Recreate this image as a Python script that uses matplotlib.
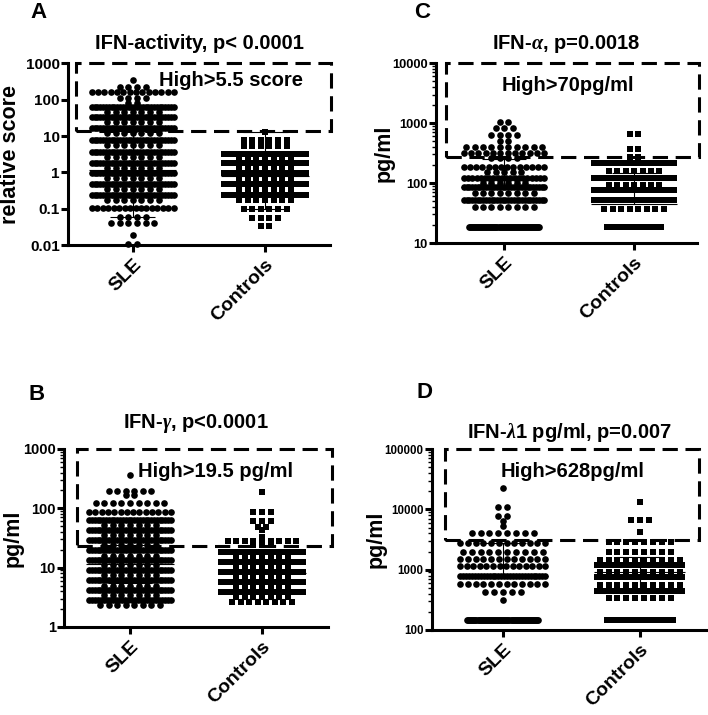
import matplotlib
matplotlib.use("Agg")
import matplotlib.pyplot as plt
import numpy as np
from matplotlib.patches import Rectangle
from matplotlib.ticker import FixedLocator, FixedFormatter, LogLocator, NullFormatter, NullLocator

plt.rcParams["font.family"] = ["Liberation Sans", "DejaVu Sans"]
plt.rcParams["font.weight"] = "bold"
plt.rcParams["axes.labelweight"] = "bold"
plt.rcParams["axes.titleweight"] = "bold"
plt.rcParams["mathtext.fontset"] = "custom"
plt.rcParams["mathtext.it"] = "Liberation Serif:italic"
plt.rcParams["mathtext.bf"] = "Liberation Serif:italic"

groups = ["SLE", "Controls"]

# each row of the dot plot: value and number of points sitting on it
a_sle_values = [341, 219, 160, 110, 80, 62, 45, 33, 24, 16.4, 12, 7.7, 5.6, 3.6, 2.6,
                1.8, 1.3, 0.95, 0.69, 0.47, 0.345, 0.237, 0.17, 0.104, 0.06, 0.04, 0.019, 0.0106]
a_sle_counts = [1, 4, 14, 4, 2, 30, 7, 30, 7, 30, 7, 30, 7, 30, 7,
                30, 7, 30, 7, 30, 7, 30, 7, 16, 4, 6, 1, 2]
a_ctrl_values = [13, 7.7, 5.2, 3.3, 2.4, 1.8, 1.3, 0.95, 0.69, 0.47, 0.34, 0.24, 0.17, 0.1, 0.055, 0.033]
a_ctrl_counts = [1, 6, 6, 30, 7, 30, 7, 30, 7, 30, 7, 28, 7, 6, 4, 2]

b_sle_values = [366, 196, 168, 123, 87, 64, 52, 43, 35, 29, 24, 20, 16, 13.5, 11, 9.1, 7.5,
                6.2, 5, 4.2, 3.4, 2.85, 2.35]
b_sle_counts = [1, 6, 2, 9, 14, 30, 7, 30, 7, 30, 7, 30, 7, 30, 7, 30, 7,
                30, 7, 30, 7, 28, 8]
b_ctrl_values = [190, 87, 62, 48, 43, 33, 28, 24, 18, 15, 12.5, 10.3, 8.5, 7, 5.7, 4.7, 3.9, 3.2, 2.6]
b_ctrl_counts = [1, 3, 3, 2, 1, 1, 9, 3, 28, 7, 30, 7, 30, 7, 30, 7, 30, 7, 8]

c_sle_values = [1040, 826, 631, 501, 398, 316, 261, 185, 152, 121, 100, 86, 68, 52, 40, 18.5]
c_sle_counts = [2, 3, 4, 2, 10, 12, 4, 14, 5, 20, 6, 30, 8, 30, 8, 70]
c_ctrl_values = [650, 370, 270, 215, 160, 121, 92, 76, 52, 37, 18.5]
c_ctrl_counts = [2, 2, 2, 26, 7, 28, 7, 30, 30, 8, 45]

d_sle_values = [22600, 11000, 7800, 6400, 5300, 4000, 2800, 2000, 1500, 1150, 780, 580, 430, 320, 147]
d_sle_counts = [1, 2, 2, 1, 1, 8, 12, 10, 12, 14, 30, 12, 5, 1, 70]
d_ctrl_values = [13300, 6600, 4200, 2900, 2000, 1450, 1200, 900, 760, 560, 450, 340, 147]
d_ctrl_counts = [1, 3, 1, 8, 8, 10, 30, 10, 30, 10, 30, 8, 80]

# centre line and error bar (low, high) per group
a_bars = [(1.15, 0.06, 14), (0.8, 0.1, 13)]
b_bars = [(11.5, 5.5, 24), (8, 3, 20)]
c_bars = [(86, 86, 250), (45, 45, 150)]
d_bars = [(790, 790, 2800), (900, 460, 1650)]

thresholds = [13.5, 23, 270, 3100]
titles = ["IFN-activity, p< 0.0001", r"IFN-$\gamma$, p<0.0001",
          r"IFN-$\alpha$, p=0.0018", r"IFN-$\lambda$1 pg/ml, p=0.007"]
box_texts = ["High>5.5 score", "High>19.5 pg/ml", "High>70pg/ml", "High>628pg/ml"]
ylabels = ["relative score", "pg/ml", "pg/ml", "pg/ml"]
letters = ["A", "B", "C", "D"]
yticks = [[0.01, 0.1, 1, 10, 100, 1000], [1, 10, 100, 1000],
          [10, 100, 1000, 10000], [100, 1000, 10000, 100000]]
ytick_labels = [["0.01", "0.1", "1", "10", "100", "1000"], ["1", "10", "100", "1000"],
                ["10", "100", "1000", "10000"], ["100", "1000", "10000", "100000"]]


def row_offsets(n, half_width, gap=0.065):
    if n == 1:
        return np.zeros(1)
    step = min(gap, 2 * half_width / (n - 1))
    return (np.arange(n) - (n - 1) / 2) * step


def dot_column(ax, x0, values, counts, marker, size, half_width, floor_width=None):
    xs, ys = [], []
    for i, (v, n) in enumerate(zip(values, counts)):
        hw = half_width
        if floor_width is not None and i == len(values) - 1:
            hw = floor_width
        xs.append(x0 + row_offsets(n, hw))
        ys.append(np.full(n, float(v)))
    ax.scatter(np.concatenate(xs), np.concatenate(ys), marker=marker, s=size,
               c="black", linewidths=0, zorder=3, clip_on=False)


fig = plt.figure(figsize=(7.08, 7.15), dpi=100)

panels = [
    dict(rect=[0.096, 0.657, 0.370, 0.2545], xlim=(-0.49, 1.49),
         data=[(a_sle_values, a_sle_counts), (a_ctrl_values, a_ctrl_counts)],
         bars=a_bars, floor=None, box_x=(-0.43, 1.5), text_xy=(0.2, 330),
         tick_fs=11, minor=False, title_pad=10, ylab_x=-0.18, letter_xy=(30, 18)),
    dict(rect=[0.0904, 0.1231, 0.3729, 0.249], xlim=(-0.5, 1.5),
         data=[(b_sle_values, b_sle_counts), (b_ctrl_values, b_ctrl_counts)],
         bars=b_bars, floor=None, box_x=(-0.40, 1.53), text_xy=(0.06, 410),
         tick_fs=10.5, minor=True, title_pad=15, ylab_x=-0.155, letter_xy=(28, 400)),
    dict(rect=[0.616, 0.660, 0.3686, 0.2517], xlim=(-0.523, 1.485),
         data=[(c_sle_values, c_sle_counts), (c_ctrl_values, c_ctrl_counts)],
         bars=c_bars, floor=(0.27, 0.21), box_x=(-0.45, 1.5), text_xy=(-0.02, 4300),
         tick_fs=9.3, minor=True, title_pad=10, ylab_x=-0.16, letter_xy=(414, 18)),
    dict(rect=[0.610, 0.1189, 0.388, 0.253], xlim=(-0.518, 1.489),
         data=[(d_sle_values, d_sle_counts), (d_ctrl_values, d_ctrl_counts)],
         bars=d_bars, floor=(0.26, 0.24), box_x=(-0.42, 1.43), text_xy=(-0.015, 41700),
         tick_fs=8.3, minor=True, title_pad=8, ylab_x=-0.164, letter_xy=(416, 398)),
]

markers = [("o", 23), ("s", 20)]

for k, p in enumerate(panels):
    ax = fig.add_axes(p["rect"])
    ax.set_yscale("log")
    ymin, ymax = yticks[k][0], yticks[k][-1]
    ax.set_ylim(ymin, ymax)
    ax.set_xlim(*p["xlim"])

    for g, (vals, cnts) in enumerate(p["data"]):
        fw = p["floor"][g] if p["floor"] else None
        dot_column(ax, g, vals, cnts, markers[g][0], markers[g][1], 0.31, fw)
        centre, low, high = p["bars"][g]
        ax.hlines(centre, g - 0.33, g + 0.33, color="black", lw=0.8, zorder=4)
        ax.vlines(g, low, high, color="black", lw=0.8, zorder=4)
        ax.hlines(high, g - 0.17, g + 0.17, color="black", lw=0.8, zorder=4)
        if low < centre:
            ax.hlines(low, g - 0.17, g + 0.17, color="black", lw=0.8, zorder=4)

    bx0, bx1 = p["box_x"]
    ax.add_patch(Rectangle((bx0, thresholds[k]), bx1 - bx0, ymax - thresholds[k],
                           fill=False, ec="black", lw=2.2, ls=(0, (5, 2.5)),
                           clip_on=False, zorder=5))
    ax.text(p["text_xy"][0], p["text_xy"][1], box_texts[k], fontsize=14.5,
            fontweight="bold", ha="left", va="center", zorder=6)

    ax.set_title(titles[k], fontsize=14.5, fontweight="bold", pad=p["title_pad"])
    ax.set_ylabel(ylabels[k], fontsize=15.5, fontweight="bold")
    ax.yaxis.set_label_coords(p["ylab_x"], 0.5)

    ax.yaxis.set_major_locator(FixedLocator(yticks[k]))
    ax.yaxis.set_major_formatter(FixedFormatter(ytick_labels[k]))
    if p["minor"]:
        ax.yaxis.set_minor_locator(LogLocator(base=10, subs=np.arange(2, 10)))
    else:
        ax.yaxis.set_minor_locator(NullLocator())
    ax.yaxis.set_minor_formatter(NullFormatter())

    ax.set_xticks([0, 1])
    ax.set_xticklabels(groups, rotation=45, ha="right", va="top",
                       rotation_mode="anchor", fontsize=14, fontweight="bold")
    ax.tick_params(axis="x", length=5, width=2.2, pad=3)
    ax.tick_params(axis="y", which="major", length=5, width=2.2, pad=1,
                   labelsize=p["tick_fs"])
    ax.tick_params(axis="y", which="minor", length=3, width=1)
    for lab in ax.get_yticklabels():
        lab.set_fontweight("bold")

    for side in ["top", "right"]:
        ax.spines[side].set_visible(False)
    for side in ["left", "bottom"]:
        ax.spines[side].set_linewidth(2.2)

    lx, ly = p["letter_xy"]
    fig.text(lx / 708, 1 - ly / 715, letters[k], fontsize=16, fontweight="bold",
             ha="left", va="baseline")

fig.savefig("out.png", dpi=100)
